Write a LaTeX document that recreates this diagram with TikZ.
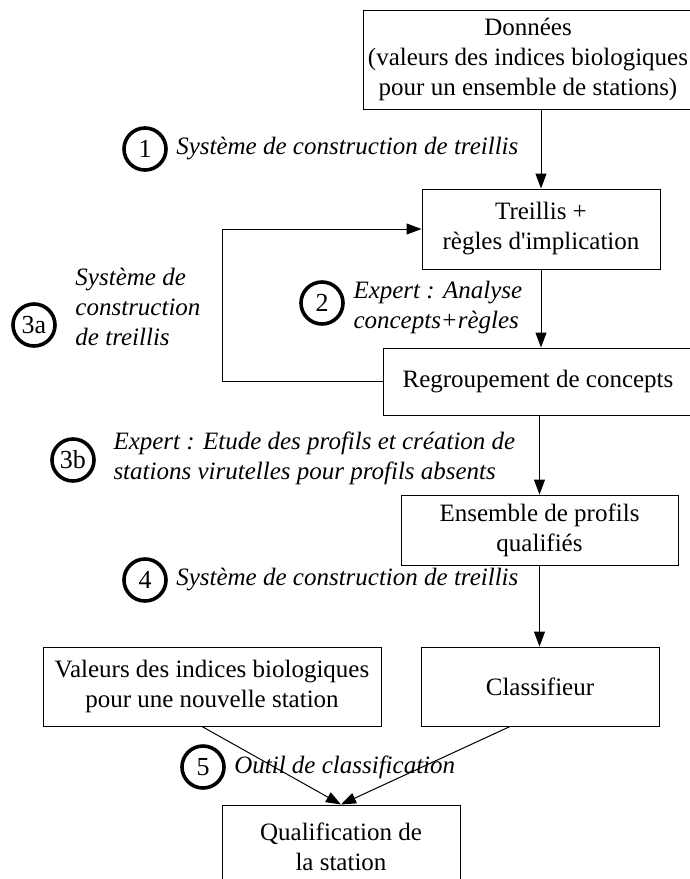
\documentclass[tikz,border=0pt]{standalone}
\usepackage{fontspec}
\setmainfont{Liberation Serif}
\usetikzlibrary{positioning}
\usetikzlibrary{arrows.meta}
\tikzset{>={Triangle[length=7.5pt,width=5.5pt]}}

\begin{document}
\begin{tikzpicture}[x=0.5pt, y=-0.5pt, line width=0.5pt,
  font=\fontsize{12.5}{15}\selectfont,
  boite/.style={draw, align=center, inner sep=0pt},
  etape/.style={draw, circle, line width=1.8pt, minimum size=21pt, inner sep=0pt, font=\fontsize{13}{15}\selectfont},
  legende/.style={font=\fontsize{12.5}{15}\selectfont\itshape, align=left, inner sep=0pt, anchor=west}]
\useasboundingbox (0,0) rectangle (690,879);
% boites
\node[boite, minimum width=165pt, minimum height=49.5pt] (donnees) at (528,59.5) {Données\\(valeurs des indices biologiques\\pour un ensemble de stations)};
\node[boite, minimum width=119pt, minimum height=40pt] (treillis) at (541,229) {Treillis +\\règles d\textquotesingle implication};
\node[boite, minimum width=155pt, minimum height=33.5pt] (regroup) at (538,381.5) {Regroupement de concepts};
\node[boite, minimum width=138.5pt, minimum height=35pt] (ensemble) at (539.5,530) {Ensemble de profils\\qualifiés};
\node[boite, minimum width=169pt, minimum height=39.5pt] (valeurs) at (212,686.5) {Valeurs des indices biologiques\\pour une nouvelle station};
\node[boite, minimum width=119pt, minimum height=39.5pt] (classif) at (540,686.5) {Classifieur};
\node[boite, minimum width=119pt, minimum height=42pt] (qualif) at (341,847) {Qualification de\\la station};
% fleches
\draw[->] (donnees.south -| treillis.north) -- (treillis.north);
\draw[->] (treillis.south) -- (treillis.south |- regroup.north);
\coordinate (retour) at (222,381.5);
\draw[->] (regroup.west) -- (retour) |- (treillis.west);
\draw[->] (ensemble.north |- regroup.south) -- (ensemble.north);
\draw[->] (ensemble.south) -- (ensemble.south |- classif.north);
\draw[->] ([xshift=-5pt]valeurs.south) -- (qualif.north);
\draw[->] ([xshift=-15pt]classif.south) -- (qualif.north);
% etapes
\node[etape] (c1) at (145,149) {1};
\node[legende, right=4pt of c1] (t1) {Système de construction de treillis};
\node[etape] (c2) at (322,303) {2};
\node[legende] (t2) at (353,307) {Expert : Analyse\\concepts+règles};
\node[etape] (c3a) at (34,325) {3a};
\node[legende] (t3a) at (75,307) {Système de\\construction\\de treillis};
\node[etape] (c3b) at (73,460) {3b};
\node[legende] (t3b) at (113,458) {Expert : Etude des profils et création de\\stations virutelles pour profils absents};
\node[etape] (c4) at (145,580) {4};
\node[legende, right=4pt of c4] (t4) {Système de construction de treillis};
\node[etape] (c5) at (203,767) {5};
\node[legende, right=4pt of c5] (t5) {Outil de classification};
\end{tikzpicture}
\end{document}
